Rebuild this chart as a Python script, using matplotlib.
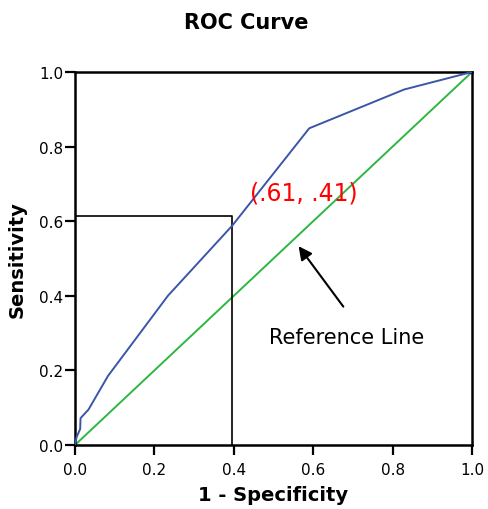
import matplotlib.pyplot as plt

# ROC curve points
fpr = [0.0, 0.004, 0.013, 0.014, 0.034, 0.083, 0.234, 0.396, 0.590, 0.829, 1.0]
tpr = [0.0, 0.021, 0.043, 0.072, 0.095, 0.185, 0.400, 0.588, 0.849, 0.953, 1.0]
ref_x = [0.0, 1.0]
ref_y = [0.0, 1.0]
cut_x = 0.396
cut_y = 0.614
ticks = [0.0, 0.2, 0.4, 0.6, 0.8, 1.0]
tick_labels = ['0.0', '0.2', '0.4', '0.6', '0.8', '1.0']

fig = plt.figure(figsize=(4.88, 5.10), dpi=100)
ax = fig.add_axes([0.1537, 0.1255, 0.8135, 0.7314])

ax.plot(ref_x, ref_y, color='#2DB742', lw=1.4, zorder=2)
ax.plot(fpr, tpr, color='#3B56A8', lw=1.4, zorder=3)
ax.plot([0, cut_x, cut_x], [cut_y, cut_y, 0], color='black', lw=1.2, zorder=2)

ax.text(0.44, 0.678, '(.61, .41)', color='red', fontsize=17, va='center', ha='left')
ax.annotate('', xy=(0.559, 0.539), xytext=(0.680, 0.365),
            arrowprops=dict(arrowstyle='-|>', color='black', lw=1.5, mutation_scale=20))
ax.text(0.683, 0.290, 'Reference Line', fontsize=15, ha='center', va='center')

ax.set_xlim(0, 1)
ax.set_ylim(0, 1)
ax.set_xticks(ticks)
ax.set_xticklabels(tick_labels)
ax.set_yticks(ticks)
ax.set_yticklabels(tick_labels)
ax.tick_params(direction='out', length=7, width=1.6, labelsize=11)
ax.tick_params(axis='x', pad=5)
ax.tick_params(axis='y', pad=1.5)
for s in ax.spines.values():
    s.set_linewidth(1.8)

ax.set_xlabel('1 - Specificity', fontsize=14, fontweight='bold', labelpad=6)
ax.set_ylabel('Sensitivity', fontsize=14, fontweight='bold', labelpad=9)
fig.suptitle('ROC Curve', fontsize=15, fontweight='bold', x=0.504, y=0.975)

fig.savefig('out.png', dpi=100)
